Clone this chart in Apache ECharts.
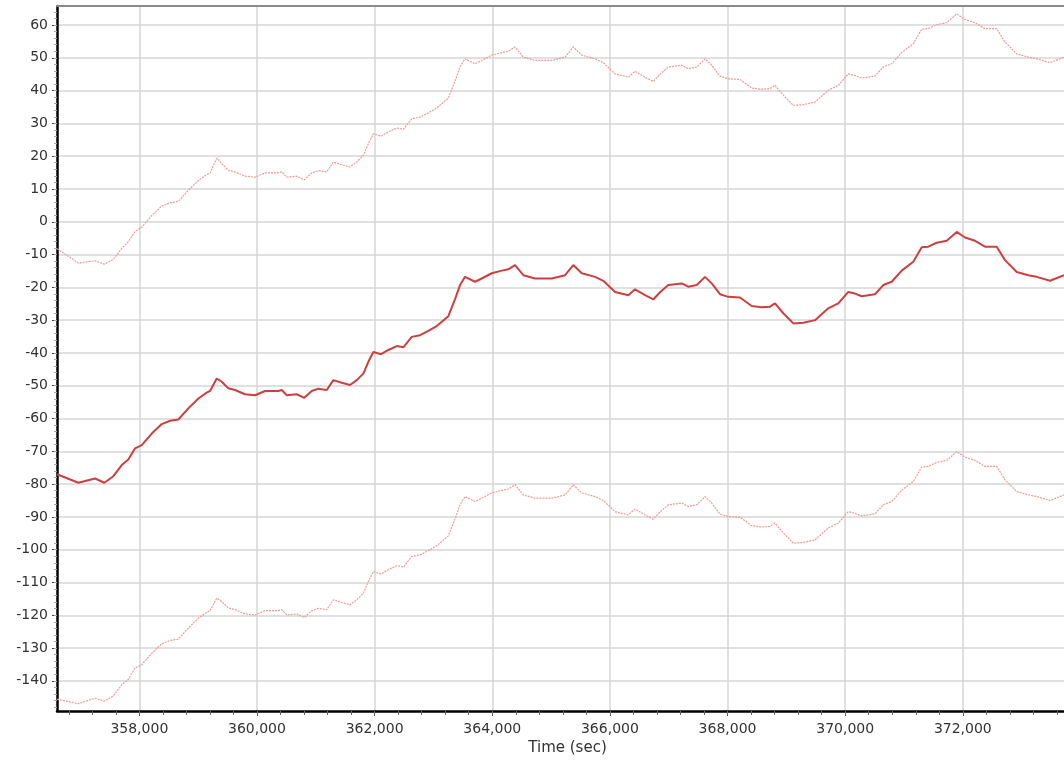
<!DOCTYPE html>
<head>
    <meta charset="utf-8">
    <title>Time (sec)</title>
</head>
<body style="margin:0;background:#fff;">
    <script type="text/javascript" src="https://cdn.jsdelivr.net/npm/echarts@6/dist/echarts.min.js"></script>

    <div id="main" style="width: 1064px;height:762px;"></div>

    <script type="text/javascript">
        // time stamps (sec)
        var times = [356601, 356963, 357247, 357405, 357558, 357701, 357813, 357927, 358041, 358211,
            358381, 358522, 358663, 358833, 359003, 359146, 359202, 359316, 359401, 359513,
            359627, 359797, 359967, 360137, 360363, 360421, 360506, 360676, 360805, 360931,
            361043, 361186, 361298, 361441, 361582, 361696, 361808, 361893, 361978, 362109,
            362233, 362376, 362488, 362631, 362772, 362913, 363056, 363253, 363367, 363452,
            363537, 363707, 363821, 363991, 364161, 364273, 364387, 364528, 364727, 365011,
            365237, 365378, 365521, 365747, 365888, 366087, 366313, 366427, 366597, 366738,
            366852, 366993, 367221, 367333, 367476, 367617, 367731, 367872, 368013, 368212,
            368411, 368581, 368722, 368807, 368948, 369118, 369288, 369487, 369713, 369883,
            370053, 370167, 370281, 370507, 370648, 370791, 370961, 371158, 371301, 371413,
            371556, 371726, 371896, 372037, 372207, 372377, 372576, 372717, 372916, 373113,
            373256, 373482, 373720];

        // middle (solid) line
        var mid = [-77, -79.6, -78.3, -79.6, -77.6, -74.2, -72.5, -69.1, -68.1, -64.6,
            -61.7, -60.7, -60.3, -56.9, -53.9, -52.1, -51.6, -47.8, -48.8, -50.8,
            -51.3, -52.6, -52.9, -51.6, -51.6, -51.3, -52.9, -52.6, -53.7, -51.6,
            -50.9, -51.3, -48.3, -49.1, -49.8, -48.3, -46.3, -42.7, -39.7, -40.4,
            -39.1, -37.9, -38.3, -35.1, -34.6, -33.3, -31.8, -28.8, -23.6, -19.3,
            -16.8, -18.3, -17.3, -15.7, -14.9, -14.5, -13.2, -16.3, -17.3, -17.3,
            -16.3, -13.2, -15.7, -16.8, -18.0, -21.4, -22.4, -20.6, -22.4, -23.7,
            -21.5, -19.3, -18.8, -19.8, -19.3, -16.8, -18.8, -22.1, -22.9, -23.1,
            -25.7, -26.1, -25.9, -24.9, -27.9, -31.0, -30.8, -30.0, -26.4, -24.9,
            -21.4, -21.9, -22.7, -22.1, -19.3, -18.3, -14.9, -12.2, -7.8, -7.6,
            -6.4, -5.8, -3.1, -4.8, -5.8, -7.6, -7.6, -11.7, -15.3, -16.3,
            -16.8, -18.0, -16.3];

        // upper (light) line
        var upper = [-8.2, -12.6, -11.9, -12.9, -11.5, -8.1, -6.1, -3.0, -1.6, 1.9,
            4.8, 5.8, 6.2, 9.6, 12.6, 14.4, 14.9, 19.4, 17.7, 15.7,
            15.2, 13.9, 13.6, 14.9, 14.9, 15.2, 13.6, 13.9, 12.8, 14.9,
            15.6, 15.2, 18.2, 17.4, 16.7, 18.2, 20.2, 23.8, 26.8, 26.1,
            27.4, 28.6, 28.2, 31.4, 31.9, 33.2, 34.7, 37.7, 42.9, 47.2,
            49.7, 48.2, 49.2, 50.8, 51.6, 52.0, 53.3, 50.2, 49.2, 49.2,
            50.2, 53.3, 50.8, 49.7, 48.5, 45.1, 44.1, 45.9, 44.1, 42.8,
            45.0, 47.2, 47.7, 46.7, 47.2, 49.7, 47.7, 44.4, 43.6, 43.4,
            40.8, 40.4, 40.6, 41.6, 38.6, 35.5, 35.7, 36.5, 40.1, 41.6,
            45.1, 44.6, 43.8, 44.4, 47.2, 48.2, 51.6, 54.3, 58.7, 58.9,
            60.1, 60.7, 63.4, 61.7, 60.7, 58.9, 58.9, 54.8, 51.2, 50.2,
            49.7, 48.5, 50.2];

        // lower (light) line
        var lower = [-145.6, -147.0, -145.3, -146.2, -144.6, -141.2, -139.5, -136.1, -135.1, -131.6,
            -128.7, -127.7, -127.3, -123.9, -120.9, -119.1, -118.6, -114.8, -115.8, -117.8,
            -118.3, -119.6, -119.9, -118.6, -118.6, -118.3, -119.9, -119.6, -120.7, -118.6,
            -117.9, -118.3, -115.3, -116.1, -116.8, -115.3, -113.3, -109.7, -106.7, -107.4,
            -106.1, -104.9, -105.3, -102.1, -101.6, -100.3, -98.8, -95.8, -90.6, -86.3,
            -83.8, -85.3, -84.3, -82.7, -81.9, -81.5, -80.2, -83.3, -84.3, -84.3,
            -83.3, -80.2, -82.7, -83.8, -85.0, -88.4, -89.4, -87.6, -89.4, -90.7,
            -88.5, -86.3, -85.8, -86.8, -86.3, -83.8, -85.8, -89.1, -89.9, -90.1,
            -92.7, -93.1, -92.9, -91.9, -94.9, -98.0, -97.8, -97.0, -93.4, -91.9,
            -88.4, -88.9, -89.7, -89.1, -86.3, -85.3, -81.9, -79.2, -74.8, -74.6,
            -73.4, -72.8, -70.1, -71.8, -72.8, -74.6, -74.6, -78.7, -82.3, -83.3,
            -83.8, -85.0, -83.3];

        var xTicks = [358000, 360000, 362000, 364000, 366000, 368000, 370000, 372000];
        var yTicks = [-140, -130, -120, -110, -100, -90, -80, -70, -60, -50, -40, -30, -20, -10, 0, 10, 20, 30, 40, 50, 60];

        var xMin = 356600, xMax = 373720;
        var yMin = -149.2, yMax = 65.8;

        // minor tick positions
        var xMinor = [];
        for (var v = 356800; v <= xMax; v += 400) xMinor.push(v);
        var yMinor = [];
        for (var w = -148; w <= yMax; w += 2) yMinor.push(w);

        function pairs(ys) {
            return times.map(function (t, i) { return [t, ys[i]]; });
        }

        var font = 'DejaVu Sans, Verdana, sans-serif';
        var gridColor = '#d6d6d6';

        var myChart = echarts.init(document.getElementById('main'));
        myChart.setOption({
            animation: false,
            grid: { left: 57, right: 0, top: 6, bottom: 51 },
            xAxis: [
                {
                    type: 'value', min: xMin, max: xMax,
                    name: 'Time (sec)', nameLocation: 'middle', nameGap: 27,
                    nameTextStyle: { fontFamily: font, fontSize: 15, color: '#333', padding: [0, 0, 0, 14] },
                    axisLine: { onZero: false, lineStyle: { color: '#000', width: 2.5 } },
                    axisTick: { customValues: xTicks, length: 5, lineStyle: { color: '#444' } },
                    axisLabel: {
                        customValues: xTicks, margin: 11, fontFamily: font, fontSize: 14, color: '#333',
                        formatter: function (v) { return v.toLocaleString('en-US'); }
                    },
                    splitLine: { show: true, lineStyle: { color: gridColor, width: 1.5 } }
                },
                {
                    type: 'value', min: xMin, max: xMax, position: 'bottom', offset: 0,
                    axisLine: { show: false, onZero: false },
                    axisTick: { customValues: xMinor, length: 4, lineStyle: { color: '#666' } },
                    axisLabel: { show: false },
                    splitLine: { show: false }
                },
                {
                    type: 'value', min: xMin, max: xMax, position: 'top',
                    axisLine: { onZero: false, lineStyle: { color: '#8a8a8a', width: 2 } },
                    axisTick: { show: false },
                    axisLabel: { show: false },
                    splitLine: { show: false }
                }
            ],
            yAxis: [
                {
                    type: 'value', min: yMin, max: yMax,
                    axisLine: { show: true, onZero: false, lineStyle: { color: '#000', width: 2.5 } },
                    axisTick: { show: true, customValues: yTicks, length: 5, lineStyle: { color: '#444' } },
                    axisLabel: { customValues: yTicks, margin: 9, fontFamily: font, fontSize: 14, color: '#333' },
                    splitLine: { show: true, lineStyle: { color: gridColor, width: 1.5 } }
                },
                {
                    type: 'value', min: yMin, max: yMax, position: 'left', offset: 0,
                    axisLine: { show: false, onZero: false },
                    axisTick: { show: true, customValues: yMinor, length: 3, lineStyle: { color: '#aaa' } },
                    axisLabel: { show: false },
                    splitLine: { show: false }
                }
            ],
            series: [
                {
                    name: 'upper', type: 'line', data: pairs(upper), showSymbol: false,
                    lineStyle: { color: '#ef9a9a', width: 1.2, type: [2, 1] }
                },
                {
                    name: 'lower', type: 'line', data: pairs(lower), showSymbol: false,
                    lineStyle: { color: '#ef9a9a', width: 1.2, type: [2, 1] }
                },
                {
                    name: 'mid', type: 'line', data: pairs(mid), showSymbol: false,
                    lineStyle: { color: '#cf3f3f', width: 2 }
                }
            ]
        });
    </script>
</body>
